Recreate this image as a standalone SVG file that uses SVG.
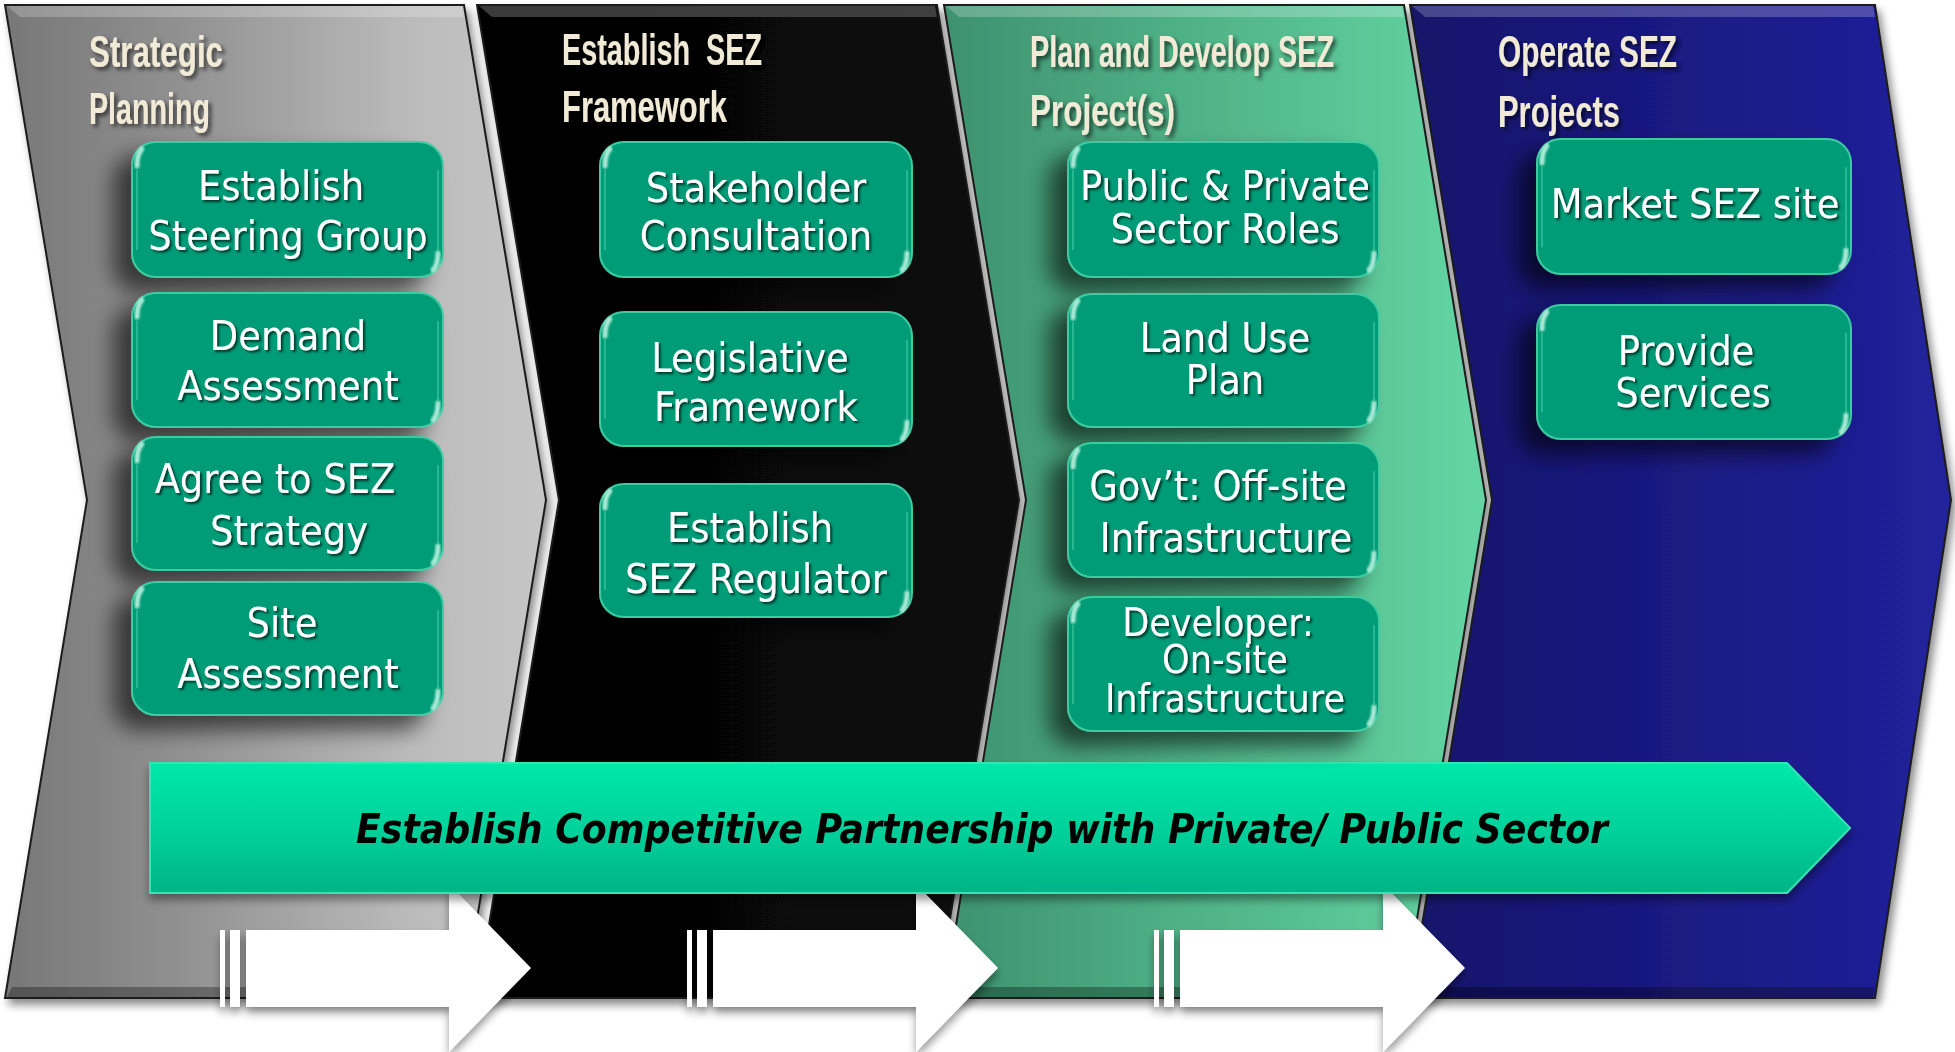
<svg xmlns="http://www.w3.org/2000/svg" width="1955" height="1052" viewBox="0 0 1955 1052">
  <defs>
    <linearGradient id="gGray" x1="0" y1="0" x2="1" y2="0">
      <stop offset="0" stop-color="#777777"/>
      <stop offset="0.35" stop-color="#939393"/>
      <stop offset="0.75" stop-color="#bbbbbb"/>
      <stop offset="1" stop-color="#c6c6c6"/>
    </linearGradient>
    <linearGradient id="gBlack" x1="0" y1="0" x2="1" y2="0">
      <stop offset="0" stop-color="#030303"/>
      <stop offset="1" stop-color="#0a0a0a"/>
    </linearGradient>
    <linearGradient id="gGreen" x1="0" y1="0" x2="1" y2="0">
      <stop offset="0" stop-color="#3e9170"/>
      <stop offset="0.45" stop-color="#4fb286"/>
      <stop offset="1" stop-color="#64d6a4"/>
    </linearGradient>
    <linearGradient id="gNavy" x1="0" y1="0" x2="1" y2="0">
      <stop offset="0" stop-color="#13136a"/>
      <stop offset="1" stop-color="#21219c"/>
    </linearGradient>
    <linearGradient id="gBanner" x1="0" y1="0" x2="0" y2="1">
      <stop offset="0" stop-color="#00e8ab"/>
      <stop offset="0.5" stop-color="#00d29b"/>
      <stop offset="1" stop-color="#00b486"/>
    </linearGradient>

    <filter id="panelShadow" x="-5%" y="-5%" width="110%" height="110%">
      <feGaussianBlur in="SourceAlpha" stdDeviation="4"/>
      <feOffset dx="4" dy="6"/>
      <feComponentTransfer><feFuncA type="linear" slope="0.45"/></feComponentTransfer>
      <feMerge><feMergeNode/><feMergeNode in="SourceGraphic"/></feMerge>
    </filter>
    <filter id="boxShadow" x="-30%" y="-30%" width="160%" height="170%">
      <feGaussianBlur in="SourceAlpha" stdDeviation="11"/>
      <feOffset dx="-18" dy="14"/>
      <feComponentTransfer><feFuncA type="linear" slope="0.6"/></feComponentTransfer>
      <feMerge><feMergeNode/><feMergeNode in="SourceGraphic"/></feMerge>
    </filter>
    <filter id="softDrop" x="-10%" y="-20%" width="120%" height="160%">
      <feGaussianBlur in="SourceAlpha" stdDeviation="4"/>
      <feOffset dx="0" dy="6"/>
      <feComponentTransfer><feFuncA type="linear" slope="0.4"/></feComponentTransfer>
      <feMerge><feMergeNode/><feMergeNode in="SourceGraphic"/></feMerge>
    </filter>
    <filter id="glow" x="-50%" y="-50%" width="200%" height="200%">
      <feGaussianBlur stdDeviation="0.8"/>
    </filter>
    <filter id="textShadow" x="-10%" y="-30%" width="120%" height="160%">
      <feDropShadow dx="2" dy="2" stdDeviation="1" flood-color="#000" flood-opacity="0.65"/>
    </filter>
    <filter id="headShadow" x="-10%" y="-30%" width="120%" height="160%">
      <feDropShadow dx="3" dy="3" stdDeviation="2" flood-color="#000" flood-opacity="0.6"/>
    </filter>

    <style>
      .panel { stroke: #1c1c1c; stroke-width: 2; }
      .bevelTop { fill: #ffffff; opacity: 0.22; }
      .bevelBot { fill: #000000; opacity: 0.3; }
      .head { font-family: "Liberation Sans Narrow", "Liberation Sans", sans-serif; font-weight: bold; font-size: 44px; fill: #f1ead6; }
      .box { fill: #009b77; stroke: #3ccba0; stroke-width: 2; }
      .rim { fill: none; stroke: #62e3bb; stroke-width: 2; opacity: 0.4; }
      .gloss { fill: none; stroke: #d8fff0; stroke-width: 5; stroke-linecap: round; opacity: 0.8; }
      .lbl { font-family: "DejaVu Sans Condensed", "DejaVu Sans", sans-serif; font-stretch: condensed; font-size: 41px; fill: #ffffff; text-anchor: middle; }
      .lblSm { font-size: 39px; }
      .banner { fill: url(#gBanner); stroke: #35e3b3; stroke-width: 2; }
      .bannerText { font-family: "DejaVu Sans Condensed", "DejaVu Sans", sans-serif; font-stretch: condensed; font-style: italic; font-weight: bold; font-size: 40px; fill: #050505; }
      .flow { fill: #ffffff; }
    </style>
  </defs>

  <rect width="1955" height="1052" fill="#ffffff"/>

  <!-- Phase panels (chevrons) -->
  <g id="phases" filter="url(#panelShadow)">
    <g id="phase-strategic">
      <polygon class="panel" fill="url(#gGray)" points="5,5 464,5 546,500 464,998 5,998 87,500"/>
      <polygon class="bevelTop" points="7,6 462,6 464,17 20,17"/>
      <polygon class="bevelBot" points="7,997 462,997 464,987 12,987"/>
      <text class="head" filter="url(#headShadow)" x="89" y="67" textLength="134" lengthAdjust="spacingAndGlyphs">Strategic</text>
      <text class="head" filter="url(#headShadow)" x="89" y="124" textLength="121" lengthAdjust="spacingAndGlyphs">Planning</text>
    </g>
    <g id="phase-framework">
      <polygon class="panel" fill="url(#gBlack)" points="477,5 937,5 1019,500 937,998 477,998 559,500"/>
      <polygon class="bevelTop" points="479,6 935,6 937,17 492,17"/>
      <text class="head" filter="url(#headShadow)" x="562" y="65" textLength="200" lengthAdjust="spacingAndGlyphs" xml:space="preserve">Establish  SEZ</text>
      <text class="head" filter="url(#headShadow)" x="562" y="122" textLength="165" lengthAdjust="spacingAndGlyphs">Framework</text>
    </g>
    <g id="phase-develop">
      <polygon class="panel" fill="url(#gGreen)" points="944,5 1404,5 1486,500 1404,998 944,998 1026,500"/>
      <polygon class="bevelTop" points="946,6 1402,6 1404,17 959,17"/>
      <polygon class="bevelBot" points="946,997 1402,997 1404,987 951,987"/>
      <text class="head" filter="url(#headShadow)" x="1030" y="67" textLength="304" lengthAdjust="spacingAndGlyphs">Plan and Develop SEZ</text>
      <text class="head" filter="url(#headShadow)" x="1030" y="126" textLength="145" lengthAdjust="spacingAndGlyphs">Project(s)</text>
    </g>
    <g id="phase-operate">
      <polygon class="panel" fill="url(#gNavy)" points="1410,5 1875,5 1951,500 1875,998 1410,998 1492,500"/>
      <polygon class="bevelTop" points="1412,6 1873,6 1875,17 1425,17"/>
      <polygon class="bevelBot" points="1412,997 1873,997 1875,987 1417,987"/>
      <text class="head" filter="url(#headShadow)" x="1498" y="67" textLength="179" lengthAdjust="spacingAndGlyphs">Operate SEZ</text>
      <text class="head" filter="url(#headShadow)" x="1498" y="127" textLength="122" lengthAdjust="spacingAndGlyphs">Projects</text>
    </g>
  </g>

  <!-- Phase-to-phase flow arrows -->
  <g id="connectors" filter="url(#softDrop)">
    <g id="flow-1">
      <rect class="flow" x="220" y="930" width="5" height="77"/>
      <rect class="flow" x="230" y="930" width="10" height="77"/>
      <path class="flow" d="M246,930 H449 V884 L531,968 L449,1052 V1007 H246 Z"/>
    </g>
    <g id="flow-2">
      <rect class="flow" x="687" y="930" width="5" height="77"/>
      <rect class="flow" x="697" y="930" width="10" height="77"/>
      <path class="flow" d="M713,930 H916 V884 L998,968 L916,1052 V1007 H713 Z"/>
    </g>
    <g id="flow-3">
      <rect class="flow" x="1154" y="930" width="5" height="77"/>
      <rect class="flow" x="1164" y="930" width="10" height="77"/>
      <path class="flow" d="M1180,930 H1383 V884 L1465,968 L1383,1052 V1007 H1180 Z"/>
    </g>
  </g>

  <!-- Partnership banner -->
  <g id="partnership" filter="url(#softDrop)">
    <polygon class="banner" points="150,763 1787,763 1850,828 1787,893 150,893"/>
    <text class="bannerText" x="356" y="843" textLength="1252" lengthAdjust="spacingAndGlyphs">Establish Competitive Partnership with Private/ Public Sector</text>
  </g>

  <!-- Activity boxes -->
  <g id="activities">
    <g id="steering-group">
      <rect class="box" filter="url(#boxShadow)" x="132" y="142" width="311" height="135" rx="24"/>
      <path class="rim" d="M137,170 V250 M438,170 V250"/>
      <path class="gloss" filter="url(#glow)" d="M137,166 Q137,154 142,149"/>
      <path class="gloss" filter="url(#glow)" d="M438,253 Q438,265 433,270"/>
      <text class="lbl" filter="url(#textShadow)"><tspan x="281" y="200">Establish</tspan><tspan x="288" y="250">Steering Group</tspan></text>
    </g>
    <g id="demand-assessment">
      <rect class="box" filter="url(#boxShadow)" x="132" y="293" width="311" height="134" rx="24"/>
      <path class="rim" d="M137,321 V400 M438,321 V400"/>
      <path class="gloss" filter="url(#glow)" d="M137,317 Q137,305 142,300"/>
      <path class="gloss" filter="url(#glow)" d="M438,403 Q438,415 433,420"/>
      <text class="lbl" filter="url(#textShadow)"><tspan x="288" y="350">Demand</tspan><tspan x="288" y="400">Assessment</tspan></text>
    </g>
    <g id="sez-strategy">
      <rect class="box" filter="url(#boxShadow)" x="132" y="437" width="311" height="133" rx="24"/>
      <path class="rim" d="M137,465 V543 M438,465 V543"/>
      <path class="gloss" filter="url(#glow)" d="M137,461 Q137,449 142,444"/>
      <path class="gloss" filter="url(#glow)" d="M438,546 Q438,558 433,563"/>
      <text class="lbl" filter="url(#textShadow)"><tspan x="275" y="493">Agree to SEZ</tspan><tspan x="289" y="545">Strategy</tspan></text>
    </g>
    <g id="site-assessment">
      <rect class="box" filter="url(#boxShadow)" x="132" y="582" width="311" height="133" rx="24"/>
      <path class="rim" d="M137,610 V688 M438,610 V688"/>
      <path class="gloss" filter="url(#glow)" d="M137,606 Q137,594 142,589"/>
      <path class="gloss" filter="url(#glow)" d="M438,691 Q438,703 433,708"/>
      <text class="lbl" filter="url(#textShadow)"><tspan x="282" y="637">Site</tspan><tspan x="288" y="688">Assessment</tspan></text>
    </g>

    <g id="stakeholder-consultation">
      <rect class="box" filter="url(#boxShadow)" x="600" y="142" width="312" height="135" rx="24"/>
      <path class="rim" d="M605,170 V250 M907,170 V250"/>
      <path class="gloss" filter="url(#glow)" d="M605,166 Q605,154 610,149"/>
      <path class="gloss" filter="url(#glow)" d="M907,253 Q907,265 902,270"/>
      <text class="lbl" filter="url(#textShadow)"><tspan x="756" y="202">Stakeholder</tspan><tspan x="756" y="250">Consultation</tspan></text>
    </g>
    <g id="legislative-framework">
      <rect class="box" filter="url(#boxShadow)" x="600" y="312" width="312" height="134" rx="24"/>
      <path class="rim" d="M605,340 V419 M907,340 V419"/>
      <path class="gloss" filter="url(#glow)" d="M605,336 Q605,324 610,319"/>
      <path class="gloss" filter="url(#glow)" d="M907,422 Q907,434 902,439"/>
      <text class="lbl" filter="url(#textShadow)"><tspan x="750" y="372">Legislative</tspan><tspan x="756" y="421">Framework</tspan></text>
    </g>
    <g id="sez-regulator">
      <rect class="box" filter="url(#boxShadow)" x="600" y="484" width="312" height="133" rx="24"/>
      <path class="rim" d="M605,512 V590 M907,512 V590"/>
      <path class="gloss" filter="url(#glow)" d="M605,508 Q605,496 610,491"/>
      <path class="gloss" filter="url(#glow)" d="M907,593 Q907,605 902,610"/>
      <text class="lbl" filter="url(#textShadow)"><tspan x="750" y="542">Establish</tspan><tspan x="756" y="593">SEZ Regulator</tspan></text>
    </g>

    <g id="sector-roles">
      <rect class="box" filter="url(#boxShadow)" x="1068" y="142" width="311" height="135" rx="24"/>
      <path class="rim" d="M1073,170 V250 M1374,170 V250"/>
      <path class="gloss" filter="url(#glow)" d="M1073,166 Q1073,154 1078,149"/>
      <path class="gloss" filter="url(#glow)" d="M1374,253 Q1374,265 1369,270"/>
      <text class="lbl" filter="url(#textShadow)"><tspan x="1225" y="200">Public &amp; Private</tspan><tspan x="1225" y="243">Sector Roles</tspan></text>
    </g>
    <g id="land-use-plan">
      <rect class="box" filter="url(#boxShadow)" x="1068" y="294" width="311" height="133" rx="24"/>
      <path class="rim" d="M1073,322 V400 M1374,322 V400"/>
      <path class="gloss" filter="url(#glow)" d="M1073,318 Q1073,306 1078,301"/>
      <path class="gloss" filter="url(#glow)" d="M1374,403 Q1374,415 1369,420"/>
      <text class="lbl" filter="url(#textShadow)"><tspan x="1225" y="352">Land Use</tspan><tspan x="1225" y="394">Plan</tspan></text>
    </g>
    <g id="offsite-infrastructure">
      <rect class="box" filter="url(#boxShadow)" x="1068" y="443" width="311" height="134" rx="24"/>
      <path class="rim" d="M1073,471 V550 M1374,471 V550"/>
      <path class="gloss" filter="url(#glow)" d="M1073,467 Q1073,455 1078,450"/>
      <path class="gloss" filter="url(#glow)" d="M1374,553 Q1374,565 1369,570"/>
      <text class="lbl" filter="url(#textShadow)"><tspan x="1218" y="500">Gov’t: Off-site</tspan><tspan x="1226" y="552">Infrastructure</tspan></text>
    </g>
    <g id="onsite-infrastructure">
      <rect class="box" filter="url(#boxShadow)" x="1068" y="597" width="311" height="134" rx="24"/>
      <path class="rim" d="M1073,625 V704 M1374,625 V704"/>
      <path class="gloss" filter="url(#glow)" d="M1073,621 Q1073,609 1078,604"/>
      <path class="gloss" filter="url(#glow)" d="M1374,707 Q1374,719 1369,724"/>
      <text class="lbl lblSm" filter="url(#textShadow)"><tspan x="1218" y="636">Developer:</tspan><tspan x="1225" y="673">On-site</tspan><tspan x="1225" y="712">Infrastructure</tspan></text>
    </g>

    <g id="market-site">
      <rect class="box" filter="url(#boxShadow)" x="1537" y="139" width="314" height="135" rx="24"/>
      <path class="rim" d="M1542,167 V247 M1846,167 V247"/>
      <path class="gloss" filter="url(#glow)" d="M1542,163 Q1542,151 1547,146"/>
      <path class="gloss" filter="url(#glow)" d="M1846,250 Q1846,262 1841,267"/>
      <text class="lbl" filter="url(#textShadow)" x="1695" y="218">Market SEZ site</text>
    </g>
    <g id="provide-services">
      <rect class="box" filter="url(#boxShadow)" x="1537" y="305" width="314" height="134" rx="24"/>
      <path class="rim" d="M1542,333 V412 M1846,333 V412"/>
      <path class="gloss" filter="url(#glow)" d="M1542,329 Q1542,317 1547,312"/>
      <path class="gloss" filter="url(#glow)" d="M1846,415 Q1846,427 1841,432"/>
      <text class="lbl" filter="url(#textShadow)"><tspan x="1686" y="365">Provide</tspan><tspan x="1693" y="407">Services</tspan></text>
    </g>
  </g>
</svg>
